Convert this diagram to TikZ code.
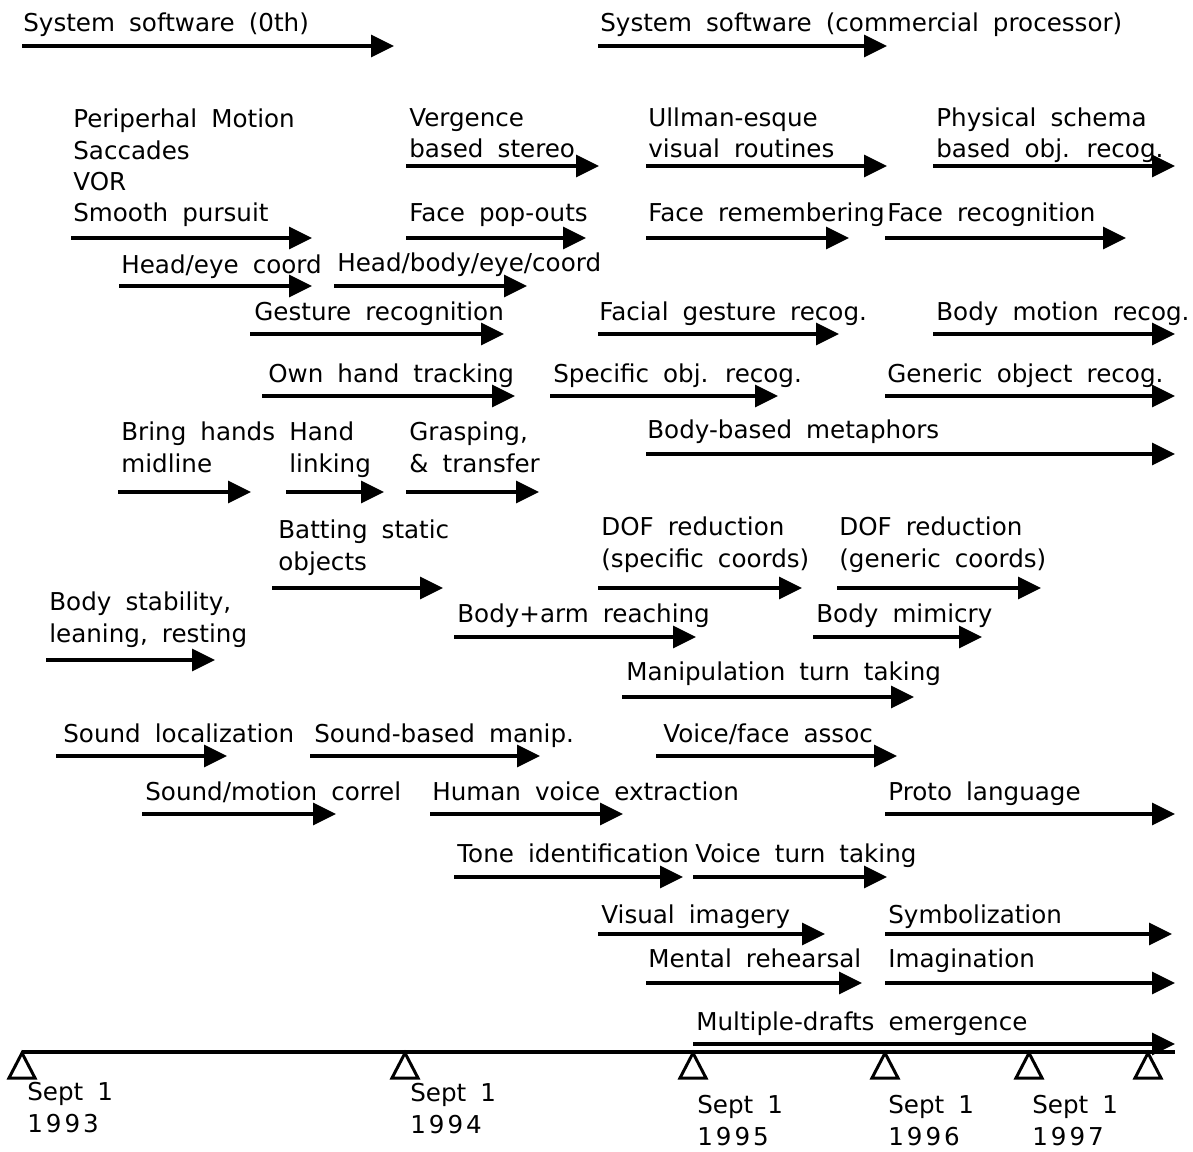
\documentclass[tikz,border=0pt]{standalone}
\usepackage{fontspec}
\setmainfont{DejaVu Sans}[WordSpace=1.8]
\usetikzlibrary{arrows.meta}

\begin{document}
\begin{tikzpicture}[
    x=0.02cm, y=-0.02cm,
    >={Triangle[length=0.46cm, width=0.44cm]},
    lbl/.style={
        anchor=base west,
        inner sep=0pt,
        align=left,
        font=\fontsize{14pt}{17.9pt}\selectfont
    },
    bar/.style={->, line width=1.9pt},
    tick/.style={line width=1.7pt, line join=miter}
]
\useasboundingbox (0,0) rectangle (1193,1152);

% system software
\node[lbl] (sys0) at (23,32) {System software (0th)};
\draw[bar] (22,46) -- (394,46);
\node[lbl] (syscom) at (600,32) {System software (commercial processor)};
\draw[bar] (598,46) -- (887,46);

% vision (multi-line labels sit on their last line)
\node[lbl] (periph) at (73,222) {Periperhal Motion\\Saccades\\VOR\\Smooth pursuit};
\draw[bar] (71,238) -- (312,238);
\node[lbl] (verg) at (409,158) {Vergence\\based stereo};
\draw[bar] (406,166) -- (599,166);
\node[lbl] (ullman) at (648,158) {Ullman-esque\\visual routines};
\draw[bar] (646,166) -- (887,166);
\node[lbl] (schema) at (936,158) {Physical schema\\based obj. recog.};
\draw[bar] (933,166) -- (1175,166);
\node[lbl] (popout) at (409,222) {Face pop-outs};
\draw[bar] (406,238) -- (586,238);
\node[lbl] (faceremb) at (648,222) {Face remembering};
\draw[bar] (646,238) -- (849,238);
\node[lbl] (facerec) at (887,222) {Face recognition};
\draw[bar] (885,238) -- (1126,238);
\node[lbl] (headeye) at (121,274) {Head/eye coord};
\draw[bar] (119,286) -- (312,286);
\node[lbl] (headbody) at (337,272) {Head/body/eye/coord};
\draw[bar] (334,286) -- (527,286);
\node[lbl] (gesture) at (254,320) {Gesture recognition};
\draw[bar] (250,334) -- (504,334);
\node[lbl] (facialg) at (599,320) {Facial gesture recog.};
\draw[bar] (598,334) -- (839,334);
\node[lbl] (bodymot) at (936,320) {Body motion recog.};
\draw[bar] (933,334) -- (1175,334);
\node[lbl] (ownhand) at (268,382) {Own hand tracking};
\draw[bar] (262,396) -- (515,396);
\node[lbl] (specobj) at (553,382) {Specific obj. recog.};
\draw[bar] (550,396) -- (778,396);
\node[lbl] (genobj) at (887,382) {Generic object recog.};
\draw[bar] (885,396) -- (1175,396);

% manipulation
\node[lbl] (bring) at (121,472) {Bring hands\\midline};
\draw[bar] (118,492) -- (251,492);
\node[lbl] (linking) at (289,472) {Hand\\linking};
\draw[bar] (286,492) -- (384,492);
\node[lbl] (grasp) at (409,472) {Grasping,\\\& transfer};
\draw[bar] (406,492) -- (539,492);
\node[lbl] (metaph) at (647,438) {Body-based metaphors};
\draw[bar] (646,454) -- (1175,454);
\node[lbl] (batting) at (278,570) {Batting static\\objects};
\draw[bar] (272,588) -- (443,588);
\node[lbl] (dofspec) at (601,567) {DOF reduction\\(specific coords)};
\draw[bar] (598,588) -- (802,588);
\node[lbl] (dofgen) at (839,567) {DOF reduction\\(generic coords)};
\draw[bar] (837,588) -- (1041,588);
\node[lbl] (stability) at (49,642) {Body stability,\\leaning, resting};
\draw[bar] (46,660) -- (215,660);
\node[lbl] (reach) at (457,622) {Body+arm reaching};
\draw[bar] (454,637) -- (696,637);
\node[lbl] (mimicry) at (816,622) {Body mimicry};
\draw[bar] (813,637) -- (982,637);
\node[lbl] (manip) at (626,680) {Manipulation turn taking};
\draw[bar] (622,697) -- (914,697);

% sound and language
\node[lbl] (soundloc) at (63,742) {Sound localization};
\draw[bar] (56,756) -- (227,756);
\node[lbl] (soundman) at (314,742) {Sound-based manip.};
\draw[bar] (310,756) -- (540,756);
\node[lbl] (voiceface) at (663,742) {Voice/face assoc};
\draw[bar] (656,756) -- (897,756);
\node[lbl] (correl) at (145,800) {Sound/motion correl};
\draw[bar] (142,814) -- (336,814);
\node[lbl] (voiceext) at (432,800) {Human voice extraction};
\draw[bar] (430,814) -- (623,814);
\node[lbl] (proto) at (888,800) {Proto language};
\draw[bar] (885,814) -- (1175,814);
\node[lbl] (tone) at (457,862) {Tone identification};
\draw[bar] (454,877) -- (683,877);
\node[lbl] (voiceturn) at (695,862) {Voice turn taking};
\draw[bar] (693,877) -- (887,877);
\node[lbl] (imagery) at (601,923) {Visual imagery};
\draw[bar] (598,934) -- (825,934);
\node[lbl] (symbol) at (888,923) {Symbolization};
\draw[bar] (885,934) -- (1172,934);
\node[lbl] (rehearse) at (648,967) {Mental rehearsal};
\draw[bar] (646,983) -- (862,983);
\node[lbl] (imagin) at (888,967) {Imagination};
\draw[bar] (885,983) -- (1175,983);
\node[lbl] (drafts) at (696,1030) {Multiple-drafts emergence};
\draw[bar] (693,1044) -- (1175,1044);

% time axis
\draw[line width=1.9pt] (22,1052) -- (1175,1052);
\foreach \x in {22,405,693,885,1029,1148}
    \draw[tick] (\x,1053) -- ++(13,25) -- ++(-26,0) -- cycle;
\node[lbl] (y93) at (27,1132) {Sept 1\\\addfontfeature{LetterSpace=12}1993};
\node[lbl] (y94) at (410,1133) {Sept 1\\\addfontfeature{LetterSpace=12}1994};
\node[lbl] (y95) at (697,1145) {Sept 1\\\addfontfeature{LetterSpace=12}1995};
\node[lbl] (y96) at (888,1145) {Sept 1\\\addfontfeature{LetterSpace=12}1996};
\node[lbl] (y97) at (1032,1145) {Sept 1\\\addfontfeature{LetterSpace=12}1997};
\end{tikzpicture}
\end{document}
